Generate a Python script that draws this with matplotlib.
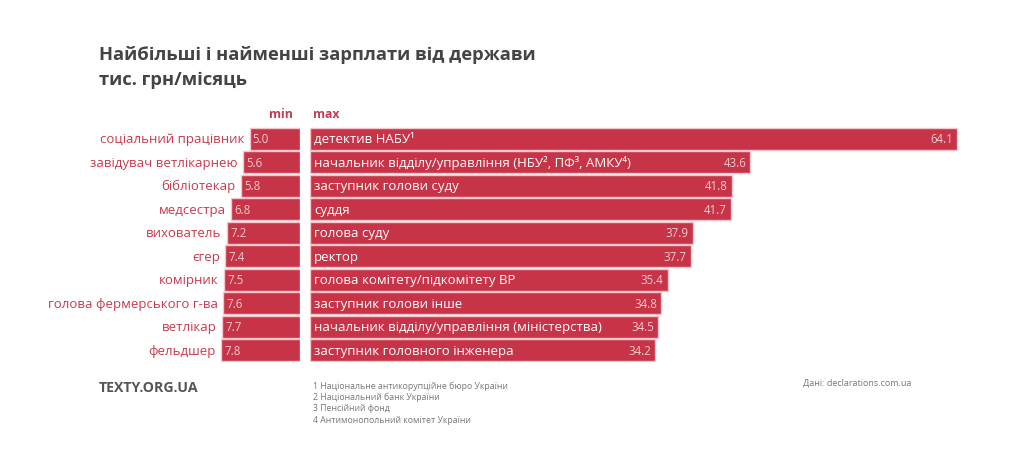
import matplotlib
matplotlib.use("Agg")
import matplotlib.pyplot as plt

plt.rcParams["font.family"] = ["Open Sans", "DejaVu Sans"]

# ── data ──
min_jobs = ["соціальний працівник", "завідувач ветлікарнею", "бібліотекар", "медсестра",
            "вихователь", "єгер", "комірник", "голова фермерського г-ва", "ветлікар", "фельдшер"]
min_vals = [5.0, 5.6, 5.8, 6.8, 7.2, 7.4, 7.5, 7.6, 7.7, 7.8]

max_jobs = ["детектив НАБУ¹", "начальник відділу/управління (НБУ², ПФ³, АМКУ⁴)",
            "заступник голови суду", "суддя", "голова суду", "ректор",
            "голова комітету/підкомітету ВР", "заступник голови інше",
            "начальник відділу/управління (міністерства)", "заступник головного інженера"]
max_vals = [64.1, 43.6, 41.8, 41.7, 37.9, 37.7, 35.4, 34.8, 34.5, 34.2]

footnotes = ["1 Національне антикорупційне бюро України",
             "2 Національний банк України",
             "3 Пенсійний фонд",
             "4 Антимонопольний комітет України"]

BAR = "#c73447"
EDGE = "#f3c6cc"
RED_TXT = "#c93a4e"
VAL_TXT = "#f2c9ce"

W, H = 1024, 460
fig = plt.figure(figsize=(W / 100, H / 100), dpi=100)
fig.patch.set_facecolor("white")

px_per_unit = 10.1
bottom = 1 - 363 / H
height = 235 / H

# left (min) panel, grows leftwards
axl = fig.add_axes([200 / W, bottom, 100 / W, height])
axl.barh(range(len(min_vals)), min_vals, height=0.93, color=BAR, edgecolor=EDGE, linewidth=1)
axl.set_xlim(100 / px_per_unit, 0)
axl.set_ylim(len(min_vals) - 0.5, -0.5)
for i, (job, v) in enumerate(zip(min_jobs, min_vals)):
    axl.annotate(job, (v, i), xytext=(-4, 0), textcoords="offset points",
                 ha="right", va="center", fontsize=9.5, color=RED_TXT)
    axl.annotate(f"{v:.1f}", (v, i), xytext=(2, 0), textcoords="offset points",
                 ha="left", va="center", fontsize=8.3, color=VAL_TXT)
axl.axis("off")

# right (max) panel
axr = fig.add_axes([310 / W, bottom, 690 / W, height])
axr.barh(range(len(max_vals)), max_vals, height=0.93, color=BAR, edgecolor=EDGE, linewidth=1)
axr.set_xlim(0, 690 / px_per_unit)
axr.set_ylim(len(max_vals) - 0.5, -0.5)
for i, (job, v) in enumerate(zip(max_jobs, max_vals)):
    axr.annotate(job, (0, i), xytext=(3, 0), textcoords="offset points",
                 ha="left", va="center", fontsize=9.5, color="white")
    axr.annotate(f"{v:.1f}", (v, i), xytext=(-3, 0), textcoords="offset points",
                 ha="right", va="center", fontsize=8.3, color=VAL_TXT)
axr.axis("off")

# titles and headers
fig.text(99 / W, 1 - 55 / H, "Найбільші і найменші зарплати від держави",
         fontsize=13.2, fontweight="bold", color="#444444", va="center")
fig.text(99 / W, 1 - 80 / H, "тис. грн/місяць",
         fontsize=13.2, fontweight="bold", color="#444444", va="center")
fig.text(281 / W, 1 - 114 / H, "min", fontsize=8.8, fontweight="bold", color=RED_TXT,
         ha="center", va="center")
fig.text(313 / W, 1 - 114 / H, "max", fontsize=8.8, fontweight="bold", color=RED_TXT,
         ha="left", va="center")

# footer
fig.text(99 / W, 1 - 388 / H, "TEXTY.ORG.UA", fontsize=10.2, fontweight="bold",
         color="#555555", va="center")
for k, note in enumerate(footnotes):
    fig.text(313 / W, 1 - (386 + k * 11.5) / H, note, fontsize=6.3, color="#777777", va="center")
fig.text(803 / W, 1 - 383 / H, "Дані: declarations.com.ua", fontsize=6.5,
         color="#777777", va="center")

fig.savefig("out.png", dpi=100)
